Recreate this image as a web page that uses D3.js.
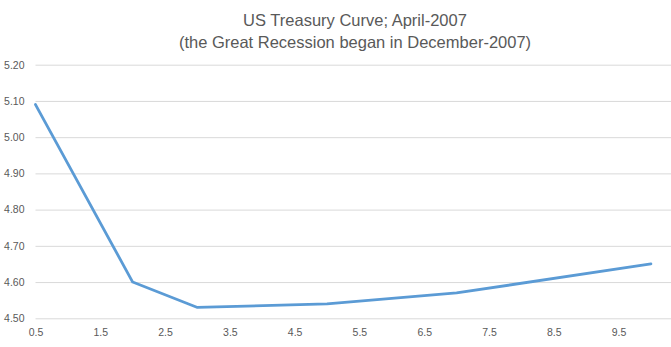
<!DOCTYPE html>
<html>
<head>
<meta charset="utf-8">
<script src="https://cdn.jsdelivr.net/npm/d3@7"></script>
<style>
  html, body { margin: 0; padding: 0; background: #fff; }
  svg { display: block; font-family: "Liberation Sans", Arial, sans-serif; }
</style>
</head>
<body>
<svg id="chart" width="671" height="347"></svg>
<script>
// Treasury yield curve, April 2007
const maturities = [0.5, 2, 3, 5, 7, 10];          // years
const yields     = [5.09, 4.60, 4.53, 4.54, 4.57, 4.65]; // percent
const xTicks     = [0.5, 1.5, 2.5, 3.5, 4.5, 5.5, 6.5, 7.5, 8.5, 9.5];
const yTicks     = [4.5, 4.6, 4.7, 4.8, 4.9, 5.0, 5.1, 5.2];
const titleLines = ["US Treasury Curve; April-2007", "(the Great Recession began in December-2007)"];

const svg = d3.select("#chart");
const W = 671, H = 347;

const x = d3.scaleLinear().domain([0.5, 10.31]).range([35.5, 671]);
const y = d3.scaleLinear().domain([4.5, 5.2]).range([318.3, 64.7]);

// Horizontal gridlines + y labels
const yAxis = svg.append("g")
  .attr("transform", `translate(${x.range()[0]},0)`)
  .call(d3.axisLeft(y).tickValues(yTicks).tickFormat(d3.format(".2f"))
        .tickSize(-(x.range()[1] - x.range()[0])).tickPadding(11));
yAxis.select(".domain").remove();
yAxis.selectAll(".tick line").attr("stroke", "#d9d9d9").attr("stroke-width", 1);
yAxis.selectAll(".tick text").attr("fill", "#595959").attr("font-size", "10.5px")
  .attr("font-family", "Liberation Sans, Arial, sans-serif");

// X labels
const xAxis = svg.append("g")
  .attr("transform", `translate(0,${y(4.5)})`)
  .call(d3.axisBottom(x).tickValues(xTicks).tickFormat(d3.format(".1f"))
        .tickSize(0).tickPadding(10));
xAxis.select(".domain").remove();
xAxis.selectAll(".tick text").attr("fill", "#595959").attr("font-size", "10.5px")
  .attr("font-family", "Liberation Sans, Arial, sans-serif");

// Yield curve
const line = d3.line().x((d, i) => x(maturities[i])).y(d => y(d));
svg.append("path")
  .datum(yields)
  .attr("fill", "none")
  .attr("stroke", "#5b9bd5")
  .attr("stroke-width", 2.8)
  .attr("stroke-linejoin", "round")
  .attr("stroke-linecap", "round")
  .attr("d", line);

// Title
svg.append("g").selectAll("text")
  .data(titleLines)
  .join("text")
  .attr("x", 355)
  .attr("y", (d, i) => 26 + i * 21.5)
  .attr("text-anchor", "middle")
  .attr("fill", "#595959")
  .attr("font-size", "16.5px")
  .text(d => d);
</script>
</body>
</html>
